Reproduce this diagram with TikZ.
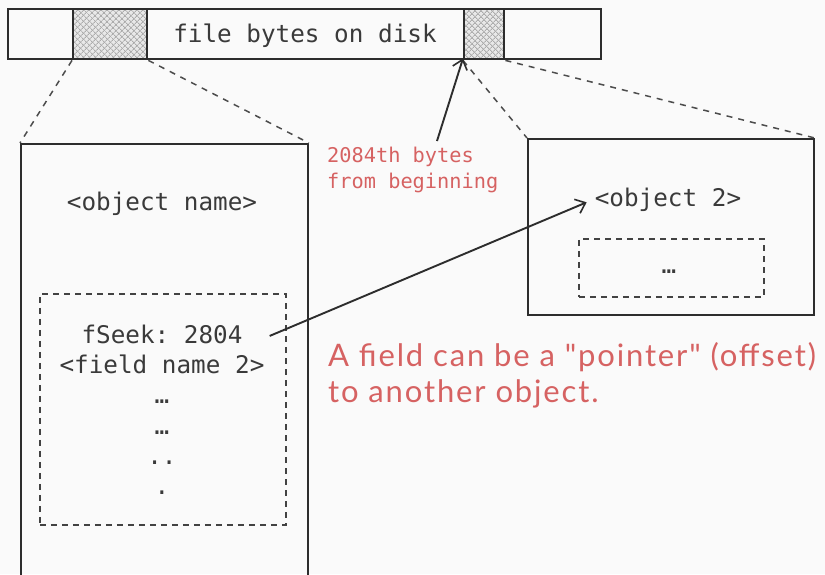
\documentclass[tikz,border=0pt]{standalone}
\usepackage{fontspec}
\setmonofont{DejaVu Sans Mono}
\newfontfamily\handfont{Lato}[LetterSpace=6]
\usetikzlibrary{arrows.meta,patterns.meta}
\definecolor{ink}{RGB}{45,45,45}
\definecolor{txt}{RGB}{58,58,58}
\definecolor{note}{RGB}{214,98,98}
\definecolor{paper}{RGB}{250,250,250}
\begin{document}
\begin{tikzpicture}[x=1pt,y=-1pt,
  box/.style={draw=ink,line width=1.9pt,inner sep=0pt,anchor=north west},
  hbox/.style={box,line width=2.4pt},
  dashbox/.style={draw=ink!90,line width=1.6pt,dash pattern=on 6pt off 5pt,inner sep=0pt,anchor=north west},
  link/.style={draw=ink!85,line width=1.5pt,dash pattern=on 6pt off 6pt},
  mono/.style={font=\fontsize{24.3}{29}\ttfamily,text=txt,inner sep=0pt,anchor=base},
  redmono/.style={font=\fontsize{20.3}{26}\ttfamily,text=note,inner sep=0pt,anchor=base west},
  hand/.style={font=\fontsize{31}{36}\handfont,text=note,inner sep=0pt,anchor=base west},
  ptr/.style={draw=ink,line width=1.9pt,-{Straight Barb[length=9pt,width=15pt,line width=1.6pt]}},
  hatchA/.style={pattern={Lines[angle=45,distance=4pt,line width=0.9pt]},pattern color=gray!65},
  hatchB/.style={pattern={Lines[angle=-45,distance=4pt,line width=0.9pt]},pattern color=gray!65}]
\fill[paper] (0,0) rectangle (825,574);
\useasboundingbox (0,0) rectangle (825,574);
\begin{scope}
\clip (0,0) rectangle (825,574);

% the file as a strip of bytes, with two highlighted ranges
\node[box,minimum width=593pt,minimum height=50pt] (bar) at (7,8) {};
\fill[gray!18] (72,8) rectangle (146,58);
\fill[hatchA] (72,8) rectangle (146,58);
\fill[hatchB] (72,8) rectangle (146,58);
\node[hbox,minimum width=74pt,minimum height=50pt] (h1) at (72,8) {};
\fill[gray!18] (463,8) rectangle (503,58);
\fill[hatchA] (463,8) rectangle (503,58);
\fill[hatchB] (463,8) rectangle (503,58);
\node[hbox,minimum width=40pt,minimum height=50pt] (h2) at (463,8) {};
\node[mono] (disk) at (305,42) {file bytes on disk};

% first object, zoomed in
\node[box,minimum width=287pt,minimum height=445pt] (objA) at (20,143) {};
\node[mono] (nameA) at (162,210) {<object name>};
\node[dashbox,minimum width=246pt,minimum height=231pt] (fields) at (39,293) {};
\node[mono] (fseek) at (162,343) {fSeek: 2804};
\node[mono] (fname) at (162,373) {<field name 2>};
\node[mono] (d1) at (162,403) {…};
\node[mono] (d2) at (162,434) {…};
\node[mono] (d3) at (162,464) {..};
\node[mono] (d4) at (162,494) {.};

% second object, zoomed in
\node[box,minimum width=286pt,minimum height=176pt] (objB) at (527,138) {};
\node[mono] (nameB) at (668,206) {<object 2>};
\node[dashbox,minimum width=185pt,minimum height=58pt] (fieldsB) at (578,238) {};
\node[mono] (dB) at (669,273) {…};

% zoom guides
\draw[link] (h1.south west) -- (objA.north west);
\draw[link] (h1.south east) -- (objA.north east);
\draw[link] (h2.south west) -- (objB.north west);
\draw[link] (h2.south east) -- (objB.north east);

% offset annotation
\node[redmono] (off1) at (327,162) {2084th bytes};
\node[redmono] (off2) at (327,188) {from beginning};
\coordinate (offtail) at (437,141);
\draw[ptr] (offtail) -- ([yshift=2pt]h2.south west);

% pointer from the field to the other object
\draw[ptr] ([xshift=27pt,yshift=-2pt]fseek.east) -- ([xshift=-8pt,yshift=-3pt]nameB.west);

\node[hand] (hint1) at (328,366) {A field can be a "pointer" (offset)};
\node[hand] (hint2) at (328,402) {to another object.};
\end{scope}
\end{tikzpicture}
\end{document}
